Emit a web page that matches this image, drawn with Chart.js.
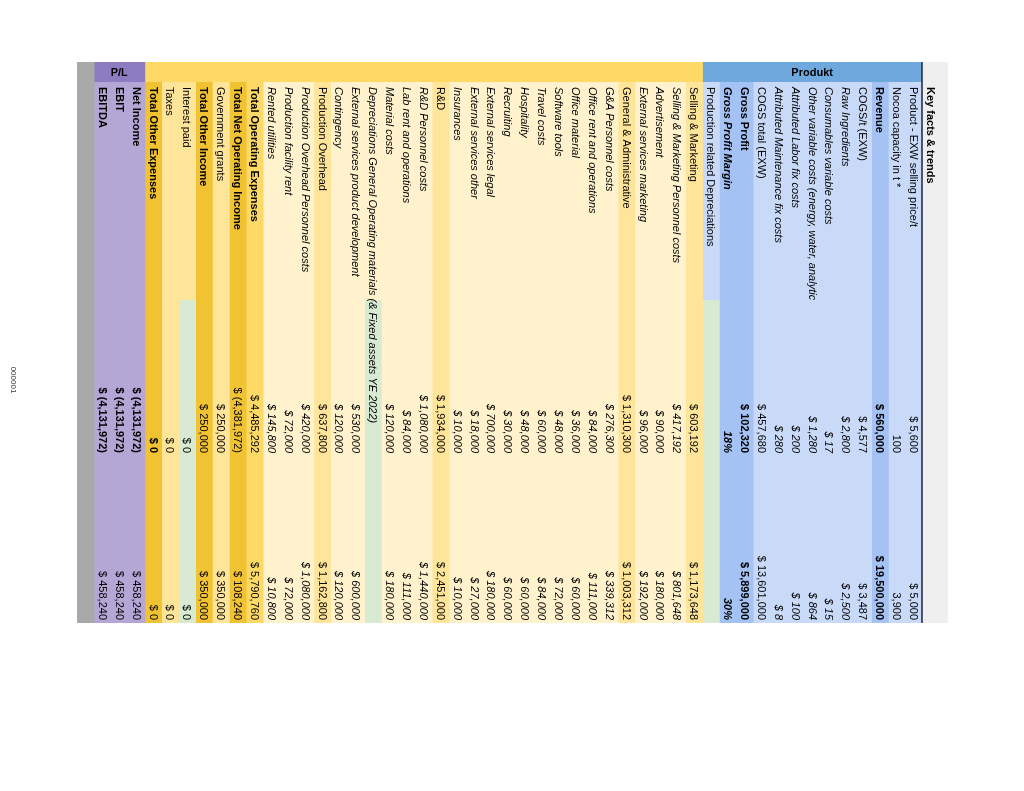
<!DOCTYPE html>
<html><head><meta charset="utf-8">
<script src="https://cdn.jsdelivr.net/npm/chart.js@4.4.1/dist/chart.umd.min.js"></script>
<style>
html,body{margin:0;padding:0;background:#fff;overflow:hidden;width:1024px;height:791px;}
#wrap{position:absolute;left:0;top:0;width:791px;height:1024px;transform-origin:0 0;transform:translate(1024px,0) rotate(90deg);}
canvas{display:block;}
</style></head><body>
<div id="wrap"><canvas id="c" width="791" height="1024"></canvas></div>
<script>
// ---------------- DATA ----------------
const sheetTitle = 'Key facts & trends';
const pageNumber = '000001';
const rowLabels = [
  'Product - EXW selling price/t','Nocoa capacity in t *','Revenue','COGS/t (EXW)','Raw Ingredients',
  'Consumables variable costs','Other variable costs (energy, water, analytics)','Attributed Labor fix costs',
  'Attributed Maintenance fix costs','COGS total (EXW)','Gross Profit','Gross Profit Margin',
  'Production related Depreciations',
  'Selling & Marketing','Selling & Marketing Personnel costs','Advertisement','External services marketing',
  'General & Administrative','G&A Personnel costs','Office rent and operations','Office material','Software tools',
  'Travel costs','Hospitality','Recruiting','External services legal','External services other','Insurances',
  'R&D','R&D Personnel costs','Lab rent and operations','Material costs',
  'Depreciations General Operating materials (& Fixed assets YE 2022)','External services product development',
  'Contingency','Production Overhead','Production Overhead Personnel costs','Production facility rent',
  'Rented utilities',
  'Total Operating Expenses','Total Net Operating Income','Government grants',
  'Total Other Income','Interest paid','Taxes','Total Other Expenses',
  'Net Income','EBIT','EBITDA',
  ''
];
const rowGroups = [
  'produkt','produkt','produkt','produkt','produkt','produkt','produkt','produkt','produkt','produkt','produkt','produkt',
  'produkt',
  'opex','opex','opex','opex',
  'opex','opex','opex','opex','opex','opex','opex','opex','opex','opex','opex',
  'opex','opex','opex','opex','opex','opex','opex','opex','opex','opex','opex',
  'opex','opex','opex','opex','opex','opex','opex',
  'pl','pl','pl',
  'none'
];
const rowTypes = [
  'item','item','key','item','sub','sub','sub','sub','sub','item','key','ratio',
  'item',
  'section','sub','sub','sub',
  'section','sub','sub','sub','sub','sub','sub','sub','sub','sub','sub',
  'section','sub','sub','sub','sub','sub','sub','section','sub','sub','sub',
  'total','grandtotal','line','grandtotal','line','line','grandtotal',
  'result','result','result',
  'spacer'
];
const rowUnits = [
  '$','t','$','$','$','$','$','$','$','$','$','%',
  '',
  '$','$','$','$',
  '$','$','$','$','$','$','$','$','$','$','$',
  '$','$','$','$','','$','$','$','$','$','$',
  '$','$','$','$','$','$','$',
  '$','$','$',
  ''
];
const col1Values = [
  5600,100,560000,4577,2800,17,1280,200,280,457680,102320,0.18,
  null,
  603192,417192,90000,96000,
  1310300,276300,84000,36000,48000,60000,48000,30000,700000,18000,10000,
  1934000,1080000,84000,120000,null,530000,120000,637800,420000,72000,145800,
  4485292,-4381972,250000,250000,0,0,0,
  -4131972,-4131972,-4131972,
  null
];
const col2Values = [
  5000,3900,19500000,3487,2500,15,864,100,8,13601000,5899000,0.30,
  null,
  1173648,801648,180000,192000,
  1003312,339312,111000,60000,72000,84000,60000,60000,180000,27000,10000,
  2451000,1440000,111000,180000,null,600000,120000,1162800,1080000,72000,10800,
  5790760,108240,350000,350000,0,0,0,
  458240,458240,458240,
  null
];
const groupTitles = {produkt:'Produkt', opex:'', pl:'P/L'};

// ---------------- STYLE / LAYOUT ----------------
const FONT = '"Liberation Sans", Arial, sans-serif';
const greenRows = ['Production related Depreciations','Depreciations General Operating materials (& Fixed assets YE 2022)','Interest paid'];
const groupColors = {produkt:'#6fa8dc', opex:'#ffd966', pl:'#8e7cc3', none:'#a9a9a9'};
const opexColors = {section:'#ffe599', sub:'#fff2cc', total:'#ffd966', grandtotal:'#f1c232', line:'#ffe599'};
const COL = {head:[0,20], label:[20,238], data:[238,561], labelX:25, v1Right:391, v2Right:558};

function rowBg(i){
  const t = rowTypes[i], g = rowGroups[i];
  if (t === 'spacer') return groupColors.none;
  if (g === 'produkt') return (t === 'key' || t === 'ratio') ? '#a4c2f4' : '#c9daf8';
  if (g === 'pl') return '#b4a7d6';
  return opexColors[t];
}
function rowFont(i, valueCol){
  const t = rowTypes[i];
  let bold = ['key','ratio','total','grandtotal','result'].includes(t);
  if (valueCol === 1 && (t === 'total' || (t === 'grandtotal' && rowLabels[i] !== 'Total Other Expenses'))) bold = false;
  if (valueCol === 2 && (t === 'total' || t === 'grandtotal' || t === 'result')) bold = false;
  const italic = t === 'sub' || t === 'ratio';
  return (italic ? 'italic ' : '') + (bold ? 'bold ' : '') + '11px ' + FONT;
}
function fmt(v, unit){
  if (v === null || v === undefined) return '';
  if (unit === '%') return Math.round(v*100) + '%';
  const s = Math.abs(v).toLocaleString('en-US');
  if (unit === 't') return s;
  return v < 0 ? '$ (' + s + ')' : '$ ' + s;
}

const n = rowLabels.length;
const tablePlugin = {
  id: 'tableText',
  beforeDatasetsDraw(chart){
    const {ctx, chartArea, scales:{x}} = chart;
    ctx.save();
    ctx.fillStyle = '#efefef';
    ctx.fillRect(x.getPixelForValue(0), chartArea.top - 26, x.getPixelForValue(561) - x.getPixelForValue(0), 26);
    ctx.restore();
  },
  afterDatasetsDraw(chart){
    const {ctx, chartArea, scales:{x, y}} = chart;
    ctx.save();
    ctx.textBaseline = 'middle';
    ctx.fillStyle = '#000';
    // title row
    ctx.font = 'bold 11px ' + FONT;
    ctx.textAlign = 'left';
    ctx.fillText(sheetTitle, x.getPixelForValue(COL.labelX), chartArea.top - 8.5);
    // separator line
    ctx.strokeStyle = '#1d2540';
    ctx.lineWidth = 1.5;
    ctx.beginPath();
    ctx.moveTo(x.getPixelForValue(0), chartArea.top);
    ctx.lineTo(x.getPixelForValue(561), chartArea.top);
    ctx.stroke();
    // group headers (vertical text in the sheet)
    ctx.textAlign = 'center';
    ctx.font = 'bold 11px ' + FONT;
    Object.keys(groupTitles).forEach(g => {
      const ids = rowGroups.map((r,i)=> r===g ? i : -1).filter(i=>i>=0);
      if (!ids.length || !groupTitles[g]) return;
      const cy = (y.getPixelForValue(ids[0]) + y.getPixelForValue(ids[ids.length-1])) / 2;
      ctx.save();
      ctx.translate(x.getPixelForValue(10) + 1, cy);
      ctx.rotate(-Math.PI/2);
      ctx.fillText(groupTitles[g], 0, 0);
      ctx.restore();
    });
    // rows
    for (let i = 0; i < n; i++) {
      const cy = y.getPixelForValue(i) + 0.5;
      const hasVal = col1Values[i] !== null || col2Values[i] !== null;
      ctx.font = rowFont(i, 0);
      ctx.textAlign = 'left';
      ctx.save();
      if (hasVal) {
        ctx.beginPath();
        ctx.rect(x.getPixelForValue(COL.label[0]), cy - 10, x.getPixelForValue(COL.label[1]) - x.getPixelForValue(COL.label[0]), 20);
        ctx.clip();
      }
      ctx.fillText(rowLabels[i], x.getPixelForValue(COL.labelX), cy);
      ctx.restore();
      ctx.textAlign = 'right';
      ctx.font = rowFont(i, 1);
      ctx.fillText(fmt(col1Values[i], rowUnits[i]), x.getPixelForValue(COL.v1Right), cy);
      ctx.font = rowFont(i, 2);
      ctx.fillText(fmt(col2Values[i], rowUnits[i]), x.getPixelForValue(COL.v2Right), cy);
    }
    ctx.restore();
    // page number
    ctx.save();
    ctx.font = '8px ' + FONT;
    ctx.fillStyle = '#333';
    ctx.textAlign = 'center';
    ctx.textBaseline = 'middle';
    ctx.fillText(pageNumber, 380, 1011);
    ctx.restore();
  }
};

const idx = rowLabels.map((_, i) => i);
new Chart(document.getElementById('c'), {
  type: 'bar',
  data: {
    labels: rowLabels.map(l => l || ' '),
    datasets: [
      {label:'group', grouped:false, data: idx.map(i => rowTypes[i]==='spacer' ? [COL.head[0], COL.data[1]] : COL.head.slice()),
       backgroundColor: idx.map(i => groupColors[rowGroups[i]])},
      {label:'labels', grouped:false, data: idx.map(i => rowTypes[i]==='spacer' ? null : COL.label.slice()),
       backgroundColor: idx.map(i => rowBg(i))},
      {label:'values', grouped:false, data: idx.map(i => rowTypes[i]==='spacer' ? null : COL.data.slice()),
       backgroundColor: idx.map(i => greenRows.includes(rowLabels[i]) ? '#d9ead3' : rowBg(i))}
    ]
  },
  options: {
    indexAxis: 'y',
    responsive: false,
    devicePixelRatio: 1,
    animation: false,
    layout: {padding: {left: 62, right: 168, top: 102, bottom: 77}},
    datasets: {bar: {barPercentage: 1.07, categoryPercentage: 1, borderWidth: 0, borderSkipped: false}},
    scales: {
      x: {type: 'linear', min: 0, max: 561, display: false},
      y: {type: 'category', display: false, offset: true}
    },
    plugins: {legend: {display: false}, tooltip: {enabled: false}, title: {display: false}}
  },
  plugins: [tablePlugin]
});
</script>
</body></html>
